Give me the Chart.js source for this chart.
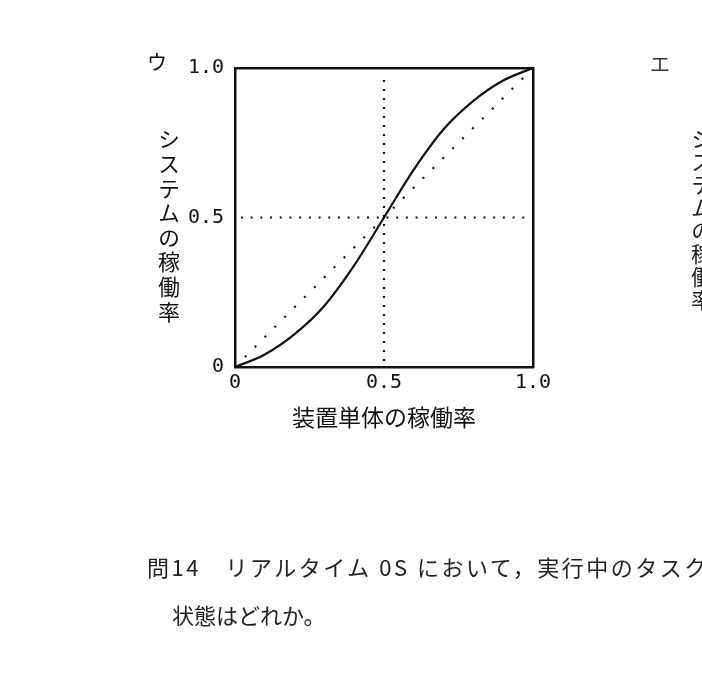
<!DOCTYPE html>
<html lang="ja">
<head>
<meta charset="utf-8">
<script src="https://cdn.jsdelivr.net/npm/chart.js@4/dist/chart.umd.min.js"></script>
<style>
  body { margin: 0; background: #fff; }
  #wrap { position: relative; width: 702px; height: 678px; overflow: hidden; font-family: "Noto Sans CJK JP", sans-serif; color: #111; }
  #chart { position: absolute; left: 0; top: 0; }
  .txt { position: absolute; white-space: nowrap; }
  .vert { writing-mode: vertical-rl; text-orientation: upright; }
</style>
</head>
<body>
<div id="wrap">
  <canvas id="chart" width="702" height="678"></canvas>
  <div class="txt" style="left:147px; top:47px; font-size:20px;">ウ</div>
  <div class="txt" style="left:650px; top:49px; font-size:20px; color:#333;">エ</div>
  <div class="txt vert" style="left:153px; top:128px; font-size:22px; letter-spacing:2.6px;">システムの稼働率</div>
  <div class="txt vert" style="left:686px; top:128px; font-size:22px; letter-spacing:1px; color:#222;">システムの稼働率</div>
  <div class="txt" style="left:147px; top:550px; font-size:22px; letter-spacing:2.5px; color:#222;">問14　リアルタイム 0S において，実行中のタスク</div>
  <div class="txt" style="left:172px; top:598px; font-size:22px; color:#222;">状態はどれか。</div>
</div>
<script>
// 装置単体の稼働率 (x) とシステムの稼働率 (y)
const unitRates = [0, 0.1, 0.2, 0.3, 0.4, 0.5, 0.6, 0.7, 0.8, 0.9, 1.0];
const systemRates = [0, 0.042, 0.11, 0.205, 0.34, 0.5, 0.66, 0.795, 0.89, 0.958, 1.0];

// 比較用の対角線 (y = x)
const diagX = [0, 1];
const diagY = [0, 1];

// 0.5 の補助線
const hLineX = [0.02, 1.0];
const hLineY = [0.5, 0.5];
const vLineX = [0.5, 0.5];
const vLineY = [0.02, 0.98];

const tickValues = [0, 0.5, 1.0];
const tickLabels = ["0", "0.5", "1.0"];

const xTitle = "装置単体の稼働率";

function toPoints(xs, ys) {
    return xs.map((x, i) => ({ x: x, y: ys[i] }));
}

function tickLabel(value) {
    const i = tickValues.findIndex(v => Math.abs(v - value) < 1e-6);
    return i >= 0 ? tickLabels[i] : "";
}

const tickFont = { family: "DejaVu Sans Mono", size: 20 };

const ctx = document.getElementById("chart").getContext("2d");
new Chart(ctx, {
    type: "line",
    data: {
        datasets: [
            {
                data: toPoints(diagX, diagY),
                borderColor: "#111",
                borderWidth: 2.2,
                borderDash: [2, 12],
                pointRadius: 0
            },
            {
                data: toPoints(hLineX, hLineY),
                borderColor: "#111",
                borderWidth: 2.2,
                borderDash: [2, 7.7],
                pointRadius: 0
            },
            {
                data: toPoints(vLineX, vLineY),
                borderColor: "#111",
                borderWidth: 2.2,
                borderDash: [2, 7],
                pointRadius: 0
            },
            {
                data: toPoints(unitRates, systemRates),
                borderColor: "#111",
                borderWidth: 2.2,
                cubicInterpolationMode: "monotone",
                pointRadius: 0
            }
        ]
    },
    options: {
        responsive: false,
        animation: false,
        devicePixelRatio: 1,
        layout: {
            padding: { left: 0, top: 68, right: 169, bottom: 243 }
        },
        plugins: {
            legend: { display: false },
            tooltip: { enabled: false }
        },
        scales: {
            x: {
                type: "linear",
                position: "bottom",
                min: 0,
                max: 1,
                afterFit: scale => { scale.height = 68; },
                afterBuildTicks: scale => { scale.ticks = tickValues.map(v => ({ value: v })); },
                grid: { display: false, drawTicks: false },
                border: { display: true, color: "#111", width: 2.5 },
                ticks: {
                    padding: 4,
                    color: "#111",
                    font: tickFont,
                    maxRotation: 0,
                    callback: tickLabel
                },
                title: {
                    display: true,
                    text: xTitle,
                    color: "#111",
                    font: { family: "Noto Sans CJK JP", size: 23 }
                }
            },
            y: {
                type: "linear",
                position: "left",
                min: 0,
                max: 1,
                afterFit: scale => { scale.width = 235; },
                afterBuildTicks: scale => { scale.ticks = tickValues.map(v => ({ value: v })); },
                grid: { display: false, drawTicks: false },
                border: { display: true, color: "#111", width: 2.5 },
                ticks: {
                    padding: 11,
                    color: "#111",
                    font: tickFont,
                    callback: tickLabel
                }
            },
            xTop: {
                type: "linear",
                position: "top",
                min: 0,
                max: 1,
                afterFit: scale => { scale.height = 0; },
                grid: { display: false, drawTicks: false },
                border: { display: true, color: "#111", width: 2.5 },
                ticks: { display: false }
            },
            yRight: {
                type: "linear",
                position: "right",
                min: 0,
                max: 1,
                afterFit: scale => { scale.width = 0; },
                grid: { display: false, drawTicks: false },
                border: { display: true, color: "#111", width: 2.5 },
                ticks: { display: false }
            }
        }
    }
});
</script>
</body>
</html>
